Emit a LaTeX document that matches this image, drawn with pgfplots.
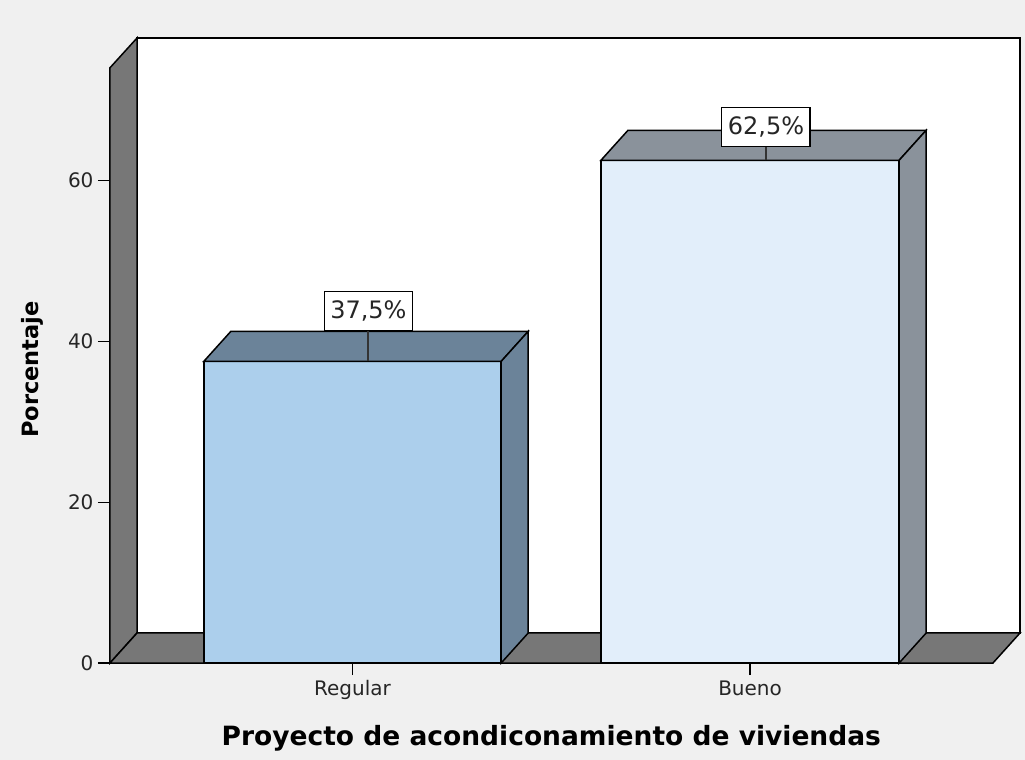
\documentclass[border=0pt]{standalone}
\usepackage{pgfplots}
\pgfplotsset{compat=1.18}
\usepackage{fontspec}
\setmainfont{DejaVu Sans}
\definecolor{bgc}{HTML}{F0F0F0}
\definecolor{wallc}{HTML}{777777}
\definecolor{regfront}{HTML}{ACCFEC}
\definecolor{regside}{HTML}{6B8399}
\definecolor{buefront}{HTML}{E2EEFA}
\definecolor{bueside}{HTML}{8A929B}
\begin{document}
\begin{tikzpicture}
\fill[bgc] (-110pt,-97pt) rectangle (915pt,663pt);
\begin{axis}[
  at={(0,0)}, anchor=south west,
  scale only axis, width=910pt, height=625pt,
  xmin=0.39, xmax=2.679, ymin=0, ymax=77.7,
  clip=false,
  axis x line=bottom, axis y line=left,
  axis line style={draw=none},
  xtick={1,2}, xticklabels={Regular,Bueno},
  ytick={0,20,40,60},
  /pgf/number format/assume math mode=true,
  tick align=outside,
  major tick length=12pt,
  tick style={black, line width=1.2pt},
  ticklabel style={font=\fontsize{20}{23}\selectfont, text=black!85},
  xticklabel style={yshift=-2pt},
  yticklabel style={xshift=-1pt},
  xlabel={Proyecto de acondiconamiento de viviendas},
  ylabel={Porcentaje},
  xlabel style={font=\bfseries\fontsize{26.5}{30}\selectfont, at={(axis cs:1.5,0)}, anchor=center, yshift=-75pt},
  ylabel style={font=\bfseries\fontsize{22.5}{26}\selectfont, at={(axis cs:0.196,36.5)}, anchor=center},
]
% back wall
\addplot[fill=white, draw=black, line width=1.5pt] coordinates {(0.458,3.73) (0.458,77.7) (2.679,77.7) (2.679,3.73)} -- cycle;
% left wall
\addplot[fill=wallc, draw=black, line width=1.5pt] coordinates {(0.39,0) (0.39,74) (0.458,77.7) (0.458,3.73)} -- cycle;
% floor
\addplot[fill=wallc, draw=black, line width=1.5pt] coordinates {(0.39,0) (2.611,0) (2.679,3.73) (0.458,3.73)} -- cycle;
% Regular bar: front, top, right
\addplot[fill=regfront, draw=black, line width=1.5pt] coordinates {(0.626,0) (0.626,37.5) (1.374,37.5) (1.374,0)} -- cycle;
\addplot[fill=regside, draw=black, line width=1.5pt] coordinates {(0.626,37.5) (0.694,41.23) (1.442,41.23) (1.374,37.5)} -- cycle;
\addplot[fill=regside, draw=black, line width=1.5pt] coordinates {(1.374,0) (1.374,37.5) (1.442,41.23) (1.442,3.73)} -- cycle;
% Bueno bar
\addplot[fill=buefront, draw=black, line width=1.5pt] coordinates {(1.625,0) (1.625,62.5) (2.375,62.5) (2.375,0)} -- cycle;
\addplot[fill=bueside, draw=black, line width=1.5pt] coordinates {(1.625,62.5) (1.693,66.23) (2.443,66.23) (2.375,62.5)} -- cycle;
\addplot[fill=bueside, draw=black, line width=1.5pt] coordinates {(2.375,0) (2.375,62.5) (2.443,66.23) (2.443,3.73)} -- cycle;
% label leader lines
\addplot[draw=black!80, line width=2pt] coordinates {(1.04,37.5) (1.04,42)};
\addplot[draw=black!80, line width=2pt] coordinates {(2.04,62.5) (2.04,65)};
% value labels
\node[draw=black, fill=white, line width=1.2pt, font=\fontsize{24}{28}\selectfont, inner xsep=6pt, minimum height=39pt, text=black!85] at (axis cs:1.04,43.8) {37,5\%};
\node[draw=black, fill=white, line width=1.2pt, font=\fontsize{24}{28}\selectfont, inner xsep=6pt, minimum height=39pt, text=black!85] at (axis cs:2.04,66.6) {62,5\%};
\end{axis}
\pgfresetboundingbox
\path (-110pt,-97pt) rectangle (915pt,663pt);
\end{tikzpicture}
\end{document}
